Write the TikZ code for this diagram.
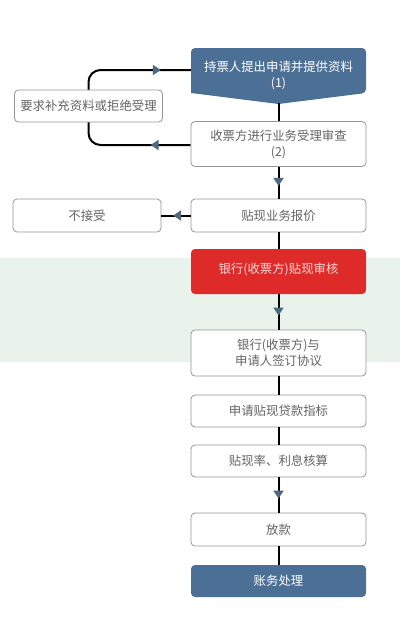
\documentclass[tikz,border=0pt]{standalone}
\usepackage{fontspec}
\usepackage{tikz}
\usetikzlibrary{arrows.meta,decorations.markings,backgrounds}
\newfontfamily\cjk{Noto Sans CJK SC}
\definecolor{flowblue}{RGB}{76,111,150}
\definecolor{tipblue}{RGB}{78,104,130}
\definecolor{auditred}{RGB}{222,42,40}
\definecolor{boxgray}{RGB}{150,150,150}
\definecolor{textgray}{RGB}{100,100,100}
\definecolor{bandgreen}{RGB}{234,242,236}

\tikzset{
  stepbox/.style={draw=boxgray,fill=white,rounded corners=4pt,line width=0.8pt,
    minimum width=175pt,minimum height=33pt,align=center,text=textgray,inner sep=1pt,
    font=\cjk\fontsize{12.4pt}{16pt}\selectfont},
  sidebox/.style={stepbox,minimum width=148pt},
  darkbox/.style={stepbox,draw=none,fill=flowblue,text=white},
  redbox/.style={stepbox,draw=none,fill=auditred,text=white!85!red},
  link/.style={line width=2pt,black},
  midarrow/.style={link,postaction={decorate},
    decoration={markings,mark=at position #1 with
      {\arrow{Triangle[width=10pt,length=8pt,color=tipblue]}}}},
  midarrow/.default=0.6
}

\begin{document}
\begin{tikzpicture}[x=1pt,y=-1pt]
\useasboundingbox (0,0) rectangle (400,621);

% first step, flag shaped
\fill[flowblue,rounded corners=4pt] (191,93) -- (191,48) -- (366,48) -- (366,93) [sharp corners] -- (278.5,104) -- cycle;
\node[inner sep=0pt,minimum width=175pt,minimum height=35pt,align=center,text=white,
  font=\cjk\fontsize{12.4pt}{16pt}\selectfont] (apply) at (278.5,75)
  {持票人提出申请并提供资料\\(1)};
\coordinate (applytip) at (278.5,103);

\node[stepbox,minimum height=45pt] (check) at (278.5,144) {收票方进行业务受理审查\\(2)};
\node[stepbox] (quote) at (278.5,215.5) {贴现业务报价};
\node[redbox,minimum height=45pt] (audit) at (278.5,271.5) {\raisebox{6pt}{银行(收票方)贴现审核}};
\node[stepbox,minimum height=46pt] (sign) at (278.5,353) {银行(收票方)与\\申请人签订协议};
\node[stepbox,minimum height=32pt] (quota) at (278.5,411) {申请贴现贷款指标};
\node[stepbox,minimum height=32pt] (rate) at (278.5,461) {贴现率、利息核算};
\node[stepbox] (loan) at (278.5,529.5) {放款};
\node[darkbox,minimum height=32pt] (account) at (278.5,581) {账务处理};

\node[sidebox,minimum height=32pt] (supply) at (88.5,106) {要求补充资料或拒绝受理};
\node[sidebox] (refuse) at (87,215.5) {不接受};

% connectors
\draw[link] (applytip) -- (check.north);
\draw[midarrow] (check.south) -- (quote.north);
\draw[link] (quote.south) -- (audit.north);
\draw[midarrow] (audit.south) -- (sign.north);
\draw[link] (sign.south) -- (quota.north);
\draw[link] (quota.south) -- (rate.north);
\draw[midarrow] (rate.south) -- (loan.north);
\draw[link] (loan.south) -- (account.north);
\draw[midarrow=0.6] (quote.west) -- (refuse.east);

\begin{pgfonlayer}{background}
% watermark band
\fill[bandgreen] (0,258) rectangle (400,362);
% loop back behind the side box
\draw[link,rounded corners=12pt,postaction={decorate},
  decoration={markings,
    mark=at position 40pt with {\arrow{Triangle[width=10pt,length=8pt,color=tipblue]}},
    mark=at position -30pt with {\arrow{Triangle[width=10pt,length=8pt,color=tipblue]}}}]
  ([yshift=-1pt]check.west) -| (supply.center) |- ([yshift=5pt]apply.west);
\end{pgfonlayer}
\end{tikzpicture}
\end{document}
